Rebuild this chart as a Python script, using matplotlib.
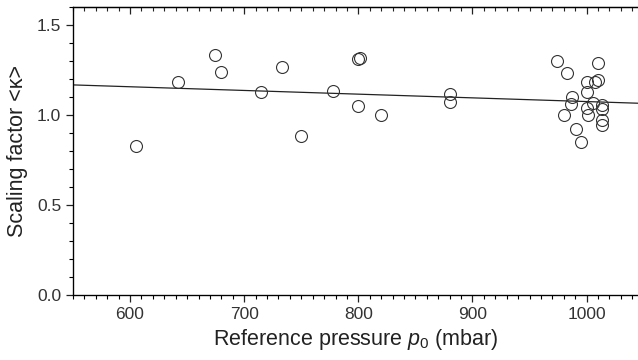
import numpy as np
import matplotlib
matplotlib.use('Agg')
import matplotlib.pyplot as plt
from matplotlib.ticker import MultipleLocator

plt.rcParams['font.family'] = ['Liberation Sans', 'DejaVu Sans']
plt.rcParams['mathtext.fontset'] = 'custom'
plt.rcParams['mathtext.rm'] = 'Liberation Sans'
plt.rcParams['mathtext.it'] = 'Liberation Sans:italic'

# measured points: reference pressure (mbar) and scaling factor
pressure = [605.5, 641.6, 674.4, 679.3, 714.3, 732.7, 750.1, 778.1, 799.7, 801.8,
            799.7, 819.6, 880.0, 880.0,
            974.2, 1010.0, 982.9, 1000.4, 1007.4, 1010.3, 1000.4, 987.0, 986.4,
            1005.3, 1000.4, 1013.5, 1013.5, 1001.0, 980.0, 1013.5, 1013.5,
            990.7, 995.0]
kappa = [0.826, 1.183, 1.337, 1.242, 1.127, 1.265, 0.883, 1.135, 1.311, 1.315,
         1.053, 0.998, 1.120, 1.072,
         1.301, 1.290, 1.237, 1.183, 1.183, 1.194, 1.131, 1.101, 1.064,
         1.070, 1.040, 1.055, 1.034, 0.999, 1.003, 0.972, 0.944,
         0.920, 0.851]

# linear fit line endpoints
fit_p = [550, 1045]
fit_k = [1.168, 1.066]

fig = plt.figure(figsize=(6.38, 3.6), dpi=100)
ax = fig.add_axes([0.1144, 0.1814, 0.8856, 0.7983])

ax.plot(fit_p, fit_k, color='#222222', lw=0.9, zorder=2)
ax.plot(pressure, kappa, 'o', ms=8.6, mfc='none', mec='#333333', mew=0.8, zorder=3)

ax.set_xlim(550, 1045)
ax.set_ylim(0, 1.6)
ax.xaxis.set_major_locator(MultipleLocator(100))
ax.xaxis.set_minor_locator(MultipleLocator(10))
ax.yaxis.set_major_locator(MultipleLocator(0.5))
ax.yaxis.set_minor_locator(MultipleLocator(0.1))
ax.yaxis.set_major_formatter(plt.FormatStrFormatter('%.1f'))

ax.spines['right'].set_visible(False)
for s in ['left', 'bottom', 'top']:
    ax.spines[s].set_linewidth(0.9)

ax.tick_params(axis='both', which='major', direction='out', length=5, width=0.9,
               labelsize=12.5, colors='#222222', labelcolor='#333333')
ax.tick_params(axis='both', which='minor', direction='out', length=3, width=0.8)

# top axis: inward ticks, no labels
top = ax.twiny()
top.set_xlim(ax.get_xlim())
top.xaxis.set_major_locator(MultipleLocator(100))
top.xaxis.set_minor_locator(MultipleLocator(10))
top.tick_params(which='major', direction='in', length=5, width=0.9, labeltop=False,
                colors='#222222')
top.tick_params(which='minor', direction='in', length=3, width=0.8, colors='#222222')
top.spines['right'].set_visible(False)
top.spines['top'].set_linewidth(0.9)

ax.set_xlabel('Reference pressure $p_0$ (mbar)', fontsize=15.5, color='#222222', labelpad=4)
ax.set_ylabel('Scaling factor <κ>', fontsize=15.5, color='#222222', labelpad=6)

fig.savefig('out.png', dpi=100)
